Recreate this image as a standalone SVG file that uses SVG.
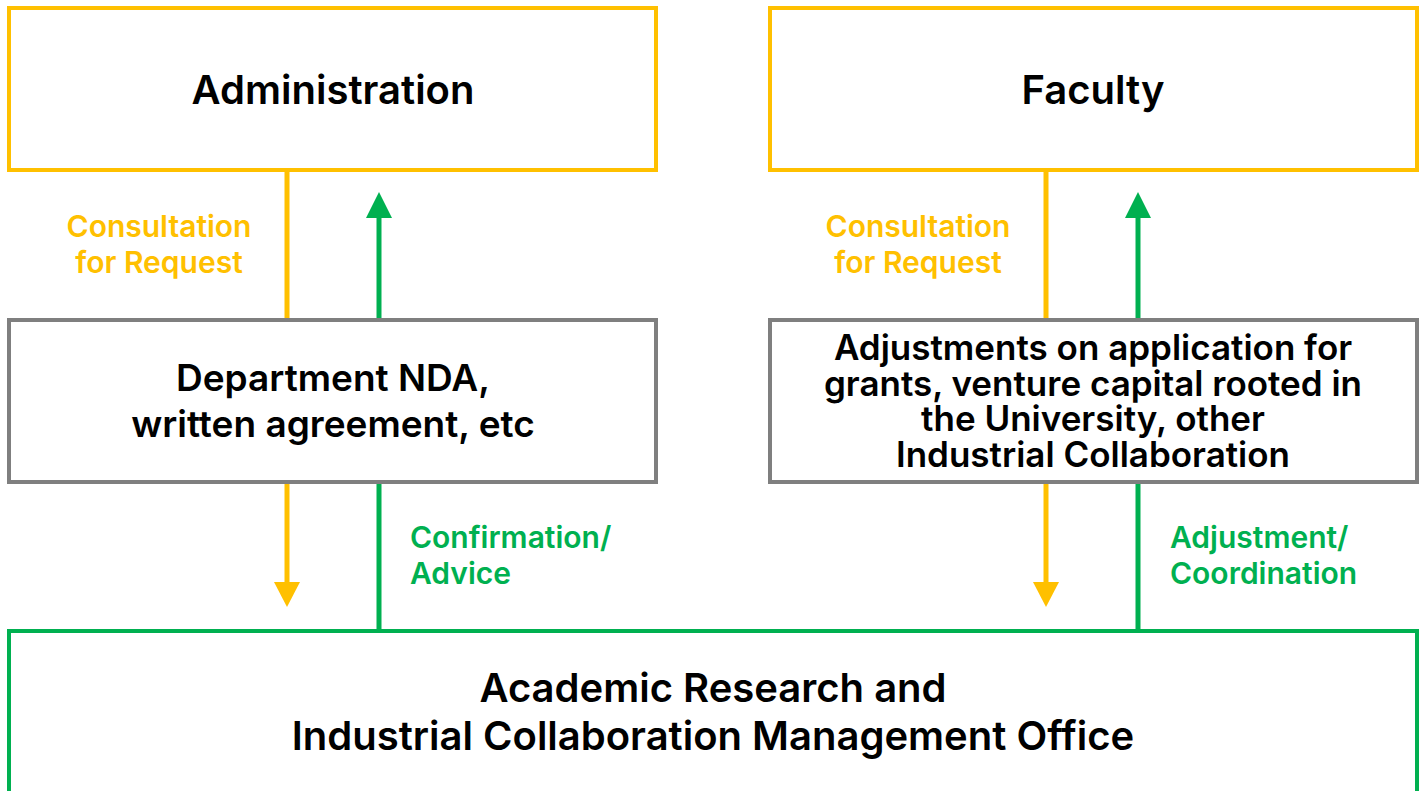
<svg xmlns="http://www.w3.org/2000/svg" width="1423" height="791" viewBox="0 0 1423 791">
<style>
.box{fill:#fff;stroke-width:4}
.y{stroke:#FFC000}
.g{stroke:#00B050}
.k{stroke:#7F7F7F}
text{font-family:Inter,"Noto Sans","Liberation Sans",sans-serif;font-weight:600;text-anchor:middle}
.t{fill:#000}
.ly{fill:#FFC000;font-size:30px}
.lg{fill:#00B050;font-size:30px;text-anchor:start}
.line{stroke-width:5;fill:none}
</style>
<rect width="1423" height="791" fill="#fff"/>
<g id="connectors">
<line class="line y" x1="287" y1="170" x2="287" y2="319"/>
<path class="line y" d="M287 482V582"/>
<path d="M274 582H300L287 607Z" fill="#FFC000"/>
<line class="line g" x1="379" y1="319" x2="379" y2="218"/>
<path d="M366 218H392L379 192Z" fill="#00B050"/>
<line class="line g" x1="379" y1="482" x2="379" y2="630"/>
<line class="line y" x1="1046" y1="170" x2="1046" y2="319"/>
<path class="line y" d="M1046 482V582"/>
<path d="M1033 582H1059L1046 607Z" fill="#FFC000"/>
<line class="line g" x1="1138" y1="319" x2="1138" y2="218"/>
<path d="M1125 218H1151L1138 192Z" fill="#00B050"/>
<line class="line g" x1="1138" y1="482" x2="1138" y2="630"/>
<text class="ly" x="159" y="237">Consultation</text>
<text class="ly" x="159" y="273">for Request</text>
<text class="ly" x="918" y="237">Consultation</text>
<text class="ly" x="918" y="273">for Request</text>
<text class="lg" x="410" y="548">Confirmation/</text>
<text class="lg" x="410" y="584">Advice</text>
<text class="lg" x="1170" y="548">Adjustment/</text>
<text class="lg" x="1170" y="584">Coordination</text>
</g>
<g id="administration">
<rect class="box y" x="9" y="8" width="647" height="162"/>
<text class="t" x="333" y="104" font-size="40">Administration</text>
</g>
<g id="faculty">
<rect class="box y" x="770" y="8" width="647" height="162"/>
<text class="t" x="1093" y="104" font-size="40">Faculty</text>
</g>
<g id="department">
<rect class="box k" x="9" y="320" width="647" height="162"/>
<text class="t" x="333" y="391" font-size="37">Department NDA,</text>
<text class="t" x="333" y="437" font-size="37">written agreement, etc</text>
</g>
<g id="adjustments">
<rect class="box k" x="770" y="320" width="647" height="162"/>
<text class="t" x="1093" y="360" font-size="35">Adjustments on application for</text>
<text class="t" x="1093" y="396" font-size="35">grants, venture capital rooted in</text>
<text class="t" x="1093" y="431" font-size="35">the University, other</text>
<text class="t" x="1093" y="467" font-size="35">Industrial Collaboration</text>
</g>
<g id="office">
<rect class="box g" x="9" y="631" width="1408" height="180"/>
<text class="t" x="713" y="702" font-size="40">Academic Research and</text>
<text class="t" x="713" y="750" font-size="40">Industrial Collaboration Management Office</text>
</g>
</svg>
